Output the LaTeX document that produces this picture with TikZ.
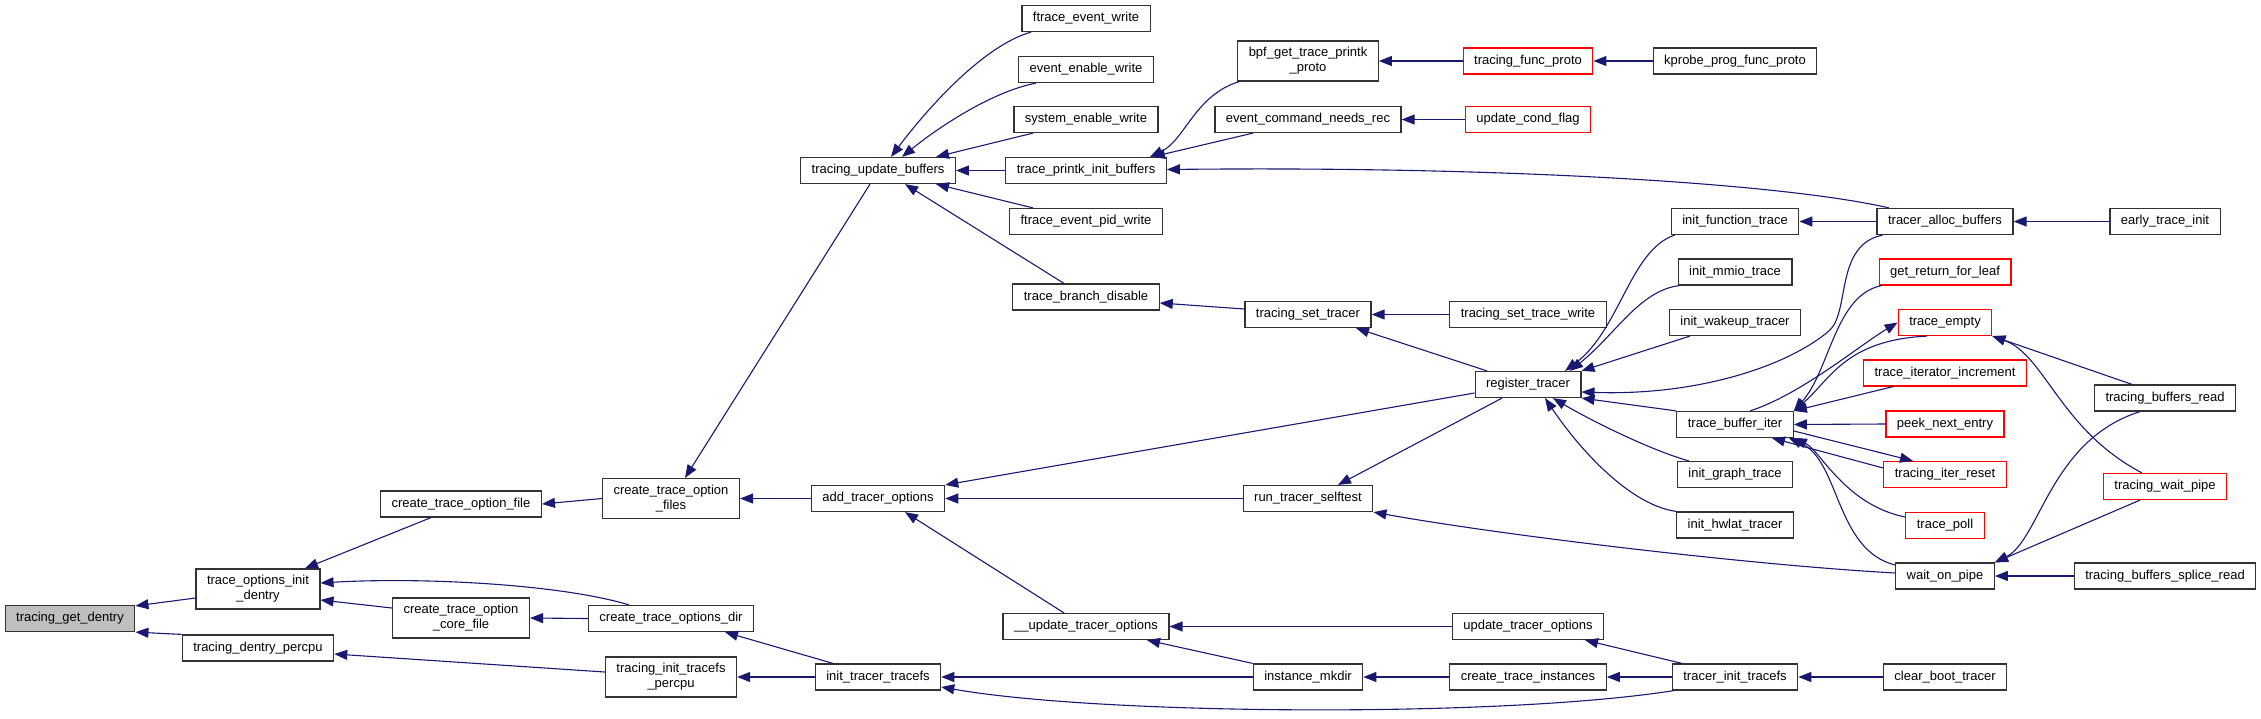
\documentclass[tikz,border=0pt]{standalone}
\usepackage{fontspec}
\setmainfont{Liberation Sans}
\usetikzlibrary{arrows.meta, positioning}

\definecolor{edgeblue}{HTML}{191970}
\definecolor{rootgray}{HTML}{BFBFBF}

\begin{document}
\begin{tikzpicture}[x=1pt, y=-1pt,
  fnbox/.style={rectangle, draw=black!80, fill=white, line width=1.2pt,
                font=\fontsize{13}{15}\selectfont, align=center,
                inner xsep=11pt, inner ysep=6.5pt, minimum height=26pt},
  redbox/.style={fnbox, draw=red},
  rootbox/.style={fnbox, fill=rootgray},
  calls/.style={draw=edgeblue, line width=1.1pt, {Triangle[length=13pt,width=10pt]}-}
]

\useasboundingbox (0,0) rectangle (2261,718);

%% column 1-3
\node[rootbox] (tgd)   at (70, 618.5) {tracing\_get\_dentry};
\node[fnbox]   (toid)  at (258, 589)  {trace\_options\_init\\\_dentry};
\node[fnbox]   (tdp)   at (258, 648)  {tracing\_dentry\_percpu};
\node[fnbox]   (ctof)  at (461, 504)  {create\_trace\_option\_file};
\node[fnbox]   (ctocf) at (461, 618)  {create\_trace\_option\\\_core\_file};

%% column 4-5
\node[fnbox] (ctofs) at (671, 498.5) {create\_trace\_option\\\_files};
\node[fnbox] (ctod)  at (671, 618.5) {create\_trace\_options\_dir};
\node[fnbox] (titp)  at (671, 677)   {tracing\_init\_tracefs\\\_percpu};
\node[fnbox] (tub)   at (878, 170.5) {tracing\_update\_buffers};
\node[fnbox] (ato)   at (878, 498.5) {add\_tracer\_options};
\node[fnbox] (itt)   at (878, 677)   {init\_tracer\_tracefs};

%% column 6
\node[fnbox] (few)  at (1086, 18.5)  {ftrace\_event\_write};
\node[fnbox] (eew)  at (1086, 69.5)  {event\_enable\_write};
\node[fnbox] (sew)  at (1086, 119.5) {system\_enable\_write};
\node[fnbox] (tpib) at (1086, 170.5) {trace\_printk\_init\_buffers};
\node[fnbox] (fepw) at (1086, 221.5) {ftrace\_event\_pid\_write};
\node[fnbox] (tbd)  at (1086, 297)   {trace\_branch\_disable};
\node[fnbox] (utoi) at (1086, 626.5) {\_\_update\_tracer\_options};

%% column 7-8
\node[fnbox]  (bgtpp) at (1308, 61)    {bpf\_get\_trace\_printk\\\_proto};
\node[fnbox]  (ecnr)  at (1308, 119.5) {event\_command\_needs\_rec};
\node[fnbox]  (tst)   at (1308, 314.5) {tracing\_set\_tracer};
\node[fnbox]  (rts)   at (1308, 498.5) {run\_tracer\_selftest};
\node[fnbox]  (imk)   at (1308, 677)   {instance\_mkdir};
\node[redbox] (tfp)   at (1528, 61)    {tracing\_func\_proto};
\node[redbox] (ucf)   at (1528, 119.5) {update\_cond\_flag};
\node[fnbox]  (tstw)  at (1528, 314.5) {tracing\_set\_trace\_write};
\node[fnbox]  (rt)    at (1528, 384.5) {register\_tracer};
\node[fnbox]  (uto)   at (1528, 626.5) {update\_tracer\_options};
\node[fnbox]  (cti)   at (1528, 677)   {create\_trace\_instances};

%% column 9
\node[fnbox] (kpfp) at (1735, 61)    {kprobe\_prog\_func\_proto};
\node[fnbox] (ift)  at (1735, 221.5) {init\_function\_trace};
\node[fnbox] (imt)  at (1735, 272)   {init\_mmio\_trace};
\node[fnbox] (iwt)  at (1735, 322.5) {init\_wakeup\_tracer};
\node[fnbox] (tbi)  at (1735, 424.5) {trace\_buffer\_iter};
\node[fnbox] (igt)  at (1735, 474.5) {init\_graph\_trace};
\node[fnbox] (iht)  at (1735, 525)   {init\_hwlat\_tracer};
\node[fnbox] (tit)  at (1735, 677)   {tracer\_init\_tracefs};

%% column 10-11
\node[fnbox]  (tab)  at (1945, 221.5) {tracer\_alloc\_buffers};
\node[redbox] (grfl) at (1945, 272)   {get\_return\_for\_leaf};
\node[redbox] (te)   at (1945, 322.5) {trace\_empty};
\node[redbox] (tii)  at (1945, 373)   {trace\_iterator\_increment};
\node[redbox] (pne)  at (1945, 424)   {peek\_next\_entry};
\node[redbox] (tir)  at (1945, 474.5) {tracing\_iter\_reset};
\node[redbox] (tp)   at (1945, 525.5) {trace\_poll};
\node[fnbox]  (wop)  at (1945, 576)   {wait\_on\_pipe};
\node[fnbox]  (cbt)  at (1945, 677)   {clear\_boot\_tracer};
\node[fnbox]  (eti)  at (2165, 221.5) {early\_trace\_init};
\node[fnbox]  (tbr)  at (2165, 398)   {tracing\_buffers\_read};
\node[redbox] (twp)  at (2165, 486.5) {tracing\_wait\_pipe};
\node[fnbox]  (tbsr) at (2165, 576)   {tracing\_buffers\_splice\_read};

%% left part
\draw[calls] ([yshift=-1pt]tgd.north east) -- ([yshift=-9pt]toid.west);
\draw[calls] (tgd.south east) -- (tdp.north west);
\draw[calls] ([xshift=47pt]toid.north) -- ([xshift=-30pt]ctof.south);
\draw[calls] ([yshift=6pt]toid.east) .. controls (420,577) and (560,584) .. ([xshift=-42pt]ctod.north);
\draw[calls] ([yshift=-11pt]toid.east) -- ([yshift=10pt]ctocf.west);
\draw[calls] (ctof.east) -- (ctofs.west);
\draw[calls] ([yshift=-6pt]tdp.east) -- ([yshift=5pt]titp.west);
\draw[calls] (ctocf.east) -- (ctod.west);
\draw[calls] ([xshift=14pt]ctofs.north) -- ([xshift=-8pt]tub.south);
\draw[calls] (ctofs.east) -- (ato.west);
\draw[calls] ([xshift=54pt]ctod.south) -- ([xshift=-45pt]itt.north);
\draw[calls] (titp.east) -- (itt.west);

%% tracing_update_buffers
\draw[calls] ([xshift=13pt]tub.north) .. controls (930,105) and (985,45) .. ([xshift=-55pt]few.south);
\draw[calls] ([xshift=24pt]tub.north) .. controls (935,130) and (990,92) .. ([xshift=-50pt]eew.south);
\draw[calls] ([xshift=58pt]tub.north) -- ([xshift=-53pt]sew.south);
\draw[calls] (tub.east) -- (tpib.west);
\draw[calls] ([xshift=58pt]tub.south) -- ([xshift=-53pt]fepw.north);
\draw[calls] ([xshift=27pt]tub.south) -- ([xshift=-22pt]tbd.north);

%% trace_printk_init_buffers and friends
\draw[calls] ([xshift=64pt]tpib.north) .. controls (1185,140) and (1195,95) .. ([xshift=2pt]bgtpp.south west);
\draw[calls] ([xshift=66pt]tpib.north) -- ([xshift=-55pt]ecnr.south);
\draw[calls] ([yshift=1pt]tpib.east) .. controls (1500,166) and (1780,183) .. ([xshift=-56pt]tab.north);
\draw[calls] (bgtpp.east) -- (tfp.west);
\draw[calls] (tfp.east) -- (kpfp.west);
\draw[calls] (ecnr.east) -- (ucf.west);
\draw[calls] ([yshift=-6pt]tbd.east) -- ([yshift=5.5pt]tst.west);
\draw[calls] (tst.east) -- (tstw.west);
\draw[calls] ([xshift=48pt]tst.south) -- ([xshift=-41pt]rt.north);

%% add_tracer_options
\draw[calls] (ato.north east) -- ([yshift=-8.5pt]rt.west);
\draw[calls] (ato.east) -- (rts.west);
\draw[calls] ([xshift=27pt]ato.south) -- ([xshift=-22pt]utoi.north);
\draw[calls] ([xshift=30pt]rts.north) -- ([xshift=-26pt]rt.south);
\draw[calls] (rts.south east) .. controls (1500,535) and (1750,565) .. ([yshift=3pt]wop.west);

%% register_tracer
\draw[calls] ([xshift=37pt]rt.north) .. controls (1620,330) and (1630,250) .. ([xshift=4pt]ift.south west);
\draw[calls] ([xshift=42pt]rt.north) .. controls (1615,335) and (1640,290) .. ([xshift=2pt]imt.south west);
\draw[calls] (rt.north east) -- ([xshift=21pt]iwt.south west);
\draw[calls] ([yshift=-7.5pt]rt.east) .. controls (1700,396) and (1790,365) .. (1830,330)
             .. controls (1850,310) and (1835,245) .. ([xshift=6pt]tab.south west);
\draw[calls] (rt.south east) -- (tbi.north west);
\draw[calls] ([xshift=25pt]rt.south) .. controls (1590,420) and (1650,450) .. ([xshift=12pt]igt.north west);
\draw[calls] ([xshift=17pt]rt.south) .. controls (1580,450) and (1630,505) .. (iht.north west);

%% bottom row
\draw[calls] (utoi.east) -- (uto.west);
\draw[calls] ([xshift=61pt]utoi.south) -- (imk.north west);
\draw[calls] (itt.east) -- (imk.west);
\draw[calls] ([yshift=-10pt]itt.east) .. controls (1100,715) and (1500,718) .. ([xshift=2pt]tit.south west);
\draw[calls] (imk.east) -- (cti.west);
\draw[calls] ([xshift=57pt]uto.south) -- ([xshift=-53pt]tit.north);
\draw[calls] (cti.east) -- (tit.west);
\draw[calls] (tit.east) -- (cbt.west);
\draw[calls] (ift.east) -- (tab.west);
\draw[calls] (tab.east) -- (eti.west);

%% trace_buffer_iter
\draw[calls] (te.west) .. controls (1860,345) and (1800,395) .. ([xshift=15pt]tbi.north);
\draw[calls] (tbi.north east) .. controls (1830,370) and (1835,295) .. ([xshift=3pt]grfl.south west);
\draw[calls] (tbi.north east) .. controls (1830,380) and (1845,340) .. ([xshift=-18pt]te.south);
\draw[calls] (tbi.north east) -- ([xshift=-52pt]tii.south);
\draw[calls] (tbi.east) -- (pne.west);
\draw[calls] ([xshift=-32pt]tir.north) -- ([yshift=-6.5pt]tbi.east);
\draw[calls] ([xshift=37pt]tbi.south) -- ([yshift=6.5pt]tir.west);
\draw[calls] (tbi.south east) .. controls (1820,450) and (1845,505) .. ([yshift=8.5pt]tp.west);
\draw[calls] ([xshift=-5pt]tbi.south east) .. controls (1840,460) and (1835,550) .. ([yshift=11pt]wop.west);

%% right part
\draw[calls] (te.south east) -- ([xshift=-33pt]tbr.north);
\draw[calls] (te.south east) .. controls (2045,355) and (2060,430) .. ([xshift=-23pt]twp.north);
\draw[calls] (wop.north east) .. controls (2040,540) and (2050,440) .. ([xshift=-25pt]tbr.south);
\draw[calls] (wop.north east) -- ([xshift=-25pt]twp.south);
\draw[calls] (wop.east) -- (tbsr.west);

\end{tikzpicture}
\end{document}
